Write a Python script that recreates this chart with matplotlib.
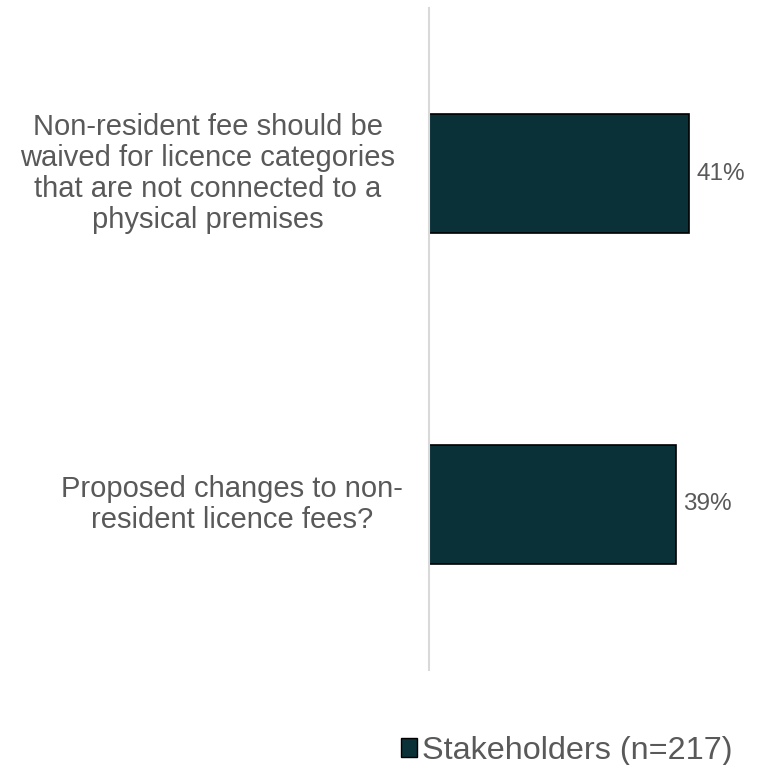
import matplotlib
matplotlib.use("Agg")
import matplotlib.pyplot as plt
from matplotlib.patches import Patch
from matplotlib.transforms import blended_transform_factory

plt.rcParams['font.family'] = ['Liberation Sans', 'DejaVu Sans']

categories = [
    "Non-resident fee should be\nwaived for licence categories\nthat are not connected to a\nphysical premises",
    "Proposed changes to non-\nresident licence fees?",
]
values = [41, 39]
series_name = "Stakeholders (n=217)"

BAR_COLOR = "#0a3038"
TEXT_COLOR = "#595959"
AXIS_COLOR = "#d9d9d9"

W, H = 769, 765
fig = plt.figure(figsize=(W / 100, H / 100), dpi=100)
ax = fig.add_axes([429 / W, 1 - 670 / H, (W - 429) / W, (670 - 8) / H])

y = list(range(len(categories)))
ax.barh(y, values, height=0.36, color=BAR_COLOR, edgecolor="black", linewidth=1.2)

ax.set_xlim(0, 53.6)
ax.set_ylim(len(categories) - 0.5, -0.5)

for yi, v in zip(y, values):
    ax.annotate(f"{v}%", xy=(v, yi), xytext=(5, 0), textcoords="offset points",
                ha="left", va="center", fontsize=17.5, color=TEXT_COLOR)

# category labels, centred in the space left of the axis
trans = blended_transform_factory(fig.transFigure, ax.transData)
label_centres = [208 / W, 232 / W]
for yi, lab, cx in zip(y, categories, label_centres):
    ax.text(cx, yi, lab, transform=trans, ha="center", va="center",
            multialignment="center", fontsize=21, color=TEXT_COLOR,
            linespacing=1.15)

ax.set_xticks([])
ax.set_yticks([])
for s in ["top", "right", "bottom"]:
    ax.spines[s].set_visible(False)
ax.spines["left"].set_color(AXIS_COLOR)
ax.spines["left"].set_linewidth(1.5)

handle = Patch(facecolor=BAR_COLOR, edgecolor="black", linewidth=1.0)
fig.legend([handle], [series_name], loc="center", bbox_to_anchor=(567 / W, 1 - 751 / H),
           frameon=False, fontsize=23.3, handlelength=0.5, handleheight=0.5,
           handletextpad=0.15, labelcolor=TEXT_COLOR, borderpad=0, borderaxespad=0)

fig.savefig("out.png", dpi=100)
